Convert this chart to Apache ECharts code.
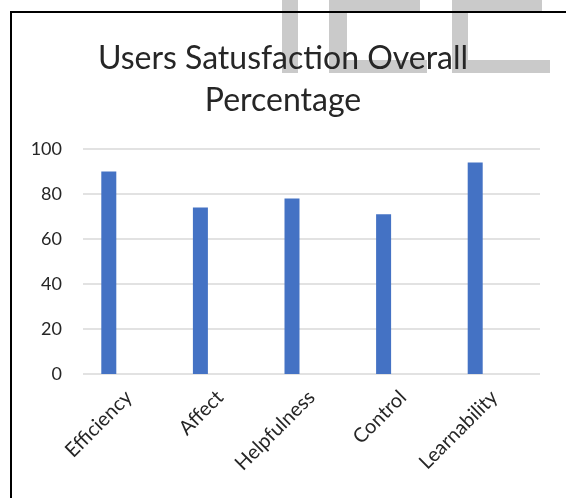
<!DOCTYPE html>
<html>
<head>
<meta charset="utf-8">
<title>Users Satusfaction Overall Percentage</title>
<script src="https://cdn.jsdelivr.net/npm/echarts@6/dist/echarts.min.js"></script>
<style>
  html, body { margin: 0; padding: 0; background: #fff; }
  #chart { width: 566px; height: 498px; }
</style>
</head>
<body>
<div id="chart"></div>
<script>
  /** Data */
  var categories = ['Efficiency', 'Affect', 'Helpfulness', 'Control', 'Learnability'];
  var satisfaction = [90, 74, 78, 71, 94];
  var yTicks = [0, 20, 40, 60, 80, 100];

  var textColor = '#262626';
  var fontFamily = 'Lato, "Open Sans", sans-serif';
  var watermark = '#cacaca';

  var option = {
    backgroundColor: '#fff',
    animation: false,
    title: {
      text: 'Users Satusfaction Overall\nPercentage',
      left: 'center',
      top: 33,
      textStyle: {
        fontFamily: fontFamily,
        fontSize: 32,
        fontWeight: 'normal',
        lineHeight: 42,
        color: textColor
      }
    },
    // frame edges and the grey letters behind the title
    graphic: [
      { type: 'rect', z: -1, shape: { x: 282, y: 0, width: 16, height: 73 }, style: { fill: watermark } },
      { type: 'rect', z: -1, shape: { x: 329, y: 0, width: 18, height: 73 }, style: { fill: watermark } },
      { type: 'rect', z: -1, shape: { x: 329, y: 0, width: 91, height: 11 }, style: { fill: watermark } },
      { type: 'rect', z: -1, shape: { x: 329, y: 60, width: 98, height: 13 }, style: { fill: watermark } },
      { type: 'rect', z: -1, shape: { x: 452, y: 0, width: 16, height: 73 }, style: { fill: watermark } },
      { type: 'rect', z: -1, shape: { x: 452, y: 0, width: 90, height: 11 }, style: { fill: watermark } },
      { type: 'rect', z: -1, shape: { x: 452, y: 60, width: 98, height: 13 }, style: { fill: watermark } },
      {
        type: 'polyline',
        z: 10,
        shape: { points: [[11, 498], [11, 12], [566, 12]] },
        style: { stroke: '#000', lineWidth: 2, fill: null }
      }
    ],
    grid: [
      { left: 83, right: 26, top: 149, bottom: 124 },  // axes and gridlines
      { left: 63, right: 45, top: 149, bottom: 124 }   // bars
    ],
    xAxis: [{
      gridIndex: 0,
      type: 'category',
      data: categories,
      axisLine: { show: false },
      axisTick: { show: false },
      axisLabel: {
        rotate: 45,
        margin: 20,
        interval: 0,
        fontFamily: fontFamily,
        fontSize: 20,
        color: textColor
      }
    }, {
      gridIndex: 1,
      type: 'category',
      data: categories,
      show: false
    }],
    yAxis: [{
      gridIndex: 0,
      type: 'value',
      min: yTicks[0],
      max: yTicks[yTicks.length - 1],
      interval: yTicks[1] - yTicks[0],
      axisLine: { show: false },
      axisTick: { show: false },
      axisLabel: {
        margin: 21,
        fontFamily: fontFamily,
        fontSize: 18,
        color: textColor
      },
      splitLine: { lineStyle: { color: '#d9d9d9', width: 1.5 } }
    }, {
      gridIndex: 1,
      type: 'value',
      min: yTicks[0],
      max: yTicks[yTicks.length - 1],
      show: false,
      splitLine: { show: false }
    }],
    series: [{
      name: 'Satisfaction',
      type: 'bar',
      xAxisIndex: 1,
      yAxisIndex: 1,
      barWidth: 15,
      data: satisfaction,
      itemStyle: { color: '#4472c4' }
    }]
  };

  var chartInstance = echarts.init(document.getElementById('chart'), null, { renderer: 'canvas' });
  chartInstance.setOption(option);
</script>
</body>
</html>
